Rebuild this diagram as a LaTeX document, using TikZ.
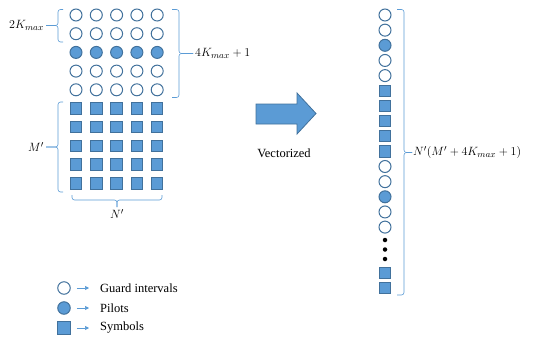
\documentclass[tikz,border=0pt]{standalone}
\usepackage{fontspec}
\setmainfont{Liberation Serif}
\usetikzlibrary{arrows.meta}
\definecolor{fillb}{HTML}{5B9BD5}
\definecolor{lineb}{HTML}{41719C}
\definecolor{brc}{HTML}{5B9BD5}
\begin{document}
\begin{tikzpicture}[x=1pt,y=-1pt,
  gi/.style={circle,draw=lineb,fill=white,line width=1pt,minimum size=12pt,inner sep=0pt},
  pil/.style={circle,draw=lineb,fill=fillb,line width=1pt,minimum size=12pt,inner sep=0pt},
  sym/.style={rectangle,draw=lineb,fill=fillb,line width=1pt,minimum size=11.5pt,inner sep=0pt},
  dotn/.style={circle,fill=black,minimum size=4.5pt,inner sep=0pt},
  brl/.style={draw=brc,line width=0.6pt,rounded corners=2.5pt},
  larr/.style={draw=brc,line width=0.6pt,-{Triangle[length=4pt,width=4pt]}},
  lbl/.style={font=\rmfamily\fontsize{12.5}{15}\selectfont,inner sep=2pt},
  mlbl/.style={font=\fontsize{13}{16}\selectfont,inner sep=2pt},
]
\useasboundingbox (0,0) rectangle (533,341);

% grid
\foreach \c in {1,...,5}{
  \pgfmathsetmacro\xx{76+20.3*(\c-1)}
  \foreach \r/\s in {1/gi,2/gi,3/pil,4/gi,5/gi,6/sym,7/sym,8/sym,9/sym,10/sym}{
    \pgfmathsetmacro\yy{15+18.7*(\r-1)}
    \node[\s] (g\r-\c) at (\xx,\yy) {};
  }
}

% brace 2Kmax
\node[mlbl,anchor=east] (k2) at (46,25.5) {$2K_{max}$};
\draw[brl] (63,9.5) -- (58,9.5) -- (58,25.5) -- (k2.east);
\draw[brl] (63,42) -- (58,42) -- (58,25.5) -- (k2.east);

% brace 4Kmax+1
\node[mlbl,anchor=west] (k4) at (193,53.5) {$4K_{max}+1$};
\draw[brl] (172,9.5) -- (179,9.5) -- (179,53.5) -- (k4.west);
\draw[brl] (172,97.5) -- (179,97.5) -- (179,53.5) -- (k4.west);

% brace M'
\node[mlbl,anchor=east] (mp) at (46,147) {$M'$};
\draw[brl] (63,102) -- (58,102) -- (58,147) -- (mp.east);
\draw[brl] (63,192) -- (58,192) -- (58,147) -- (mp.east);

% brace N'
\node[mlbl,anchor=north] (np) at (117,207) {$N'$};
\draw[brl] (72,195) -- (72,200) -- (117,200) -- (np.north);
\draw[brl] (162,195) -- (162,200) -- (117,200) -- (np.north);

% block arrow
\draw[draw=lineb,fill=fillb,line width=0.8pt]
  (256,104) -- (297,104) -- (297,93) -- (316,113.5) -- (297,134) -- (297,124) -- (256,124) -- cycle;
\node[lbl] (vec) at (284,153) {Vectorized};

% vector column
\foreach \k/\s in {1/gi,2/gi,3/pil,4/gi,5/gi,6/sym,7/sym,8/sym,9/sym,10/sym,11/gi,12/gi,13/pil,14/gi,15/gi}{
  \pgfmathsetmacro\yy{15+15.15*(\k-1)}
  \node[\s] (v\k) at (385,\yy) {};
}
\node[dotn] (d1) at (385,240) {};
\node[dotn] (d2) at (385,249.5) {};
\node[dotn] (d3) at (385,259) {};
\node[sym] (v16) at (385,273) {};
\node[sym] (v17) at (385,288) {};

% vector brace
\node[mlbl,anchor=west,inner sep=1pt] (nv) at (412,152.5) {$N'(M'+4K_{max}+1)$};
\draw[brl] (397,9.5) -- (404,9.5) -- (404,152.5) -- (nv.west);
\draw[brl] (397,295) -- (404,295) -- (404,152.5) -- (nv.west);

% legend
\node[gi,minimum size=12.5pt] (lg1) at (64,288) {};
\node[pil,minimum size=12.5pt] (lg2) at (64,308) {};
\node[sym,minimum size=12.5pt] (lg3) at (64,328) {};
\node[lbl,anchor=west] (lt1) at (98,288) {Guard intervals};
\node[lbl,anchor=west] (lt2) at (98,308) {Pilots};
\node[lbl,anchor=west] (lt3) at (98,328) {Symbols};
\draw[larr] ([xshift=6pt]lg1.east) -- ([xshift=-9pt]lt1.west);
\draw[larr] ([xshift=6pt]lg2.east) -- ([xshift=-9pt]lt2.west);
\draw[larr] ([xshift=6pt]lg3.east) -- ([xshift=-9pt]lt3.west);
\end{tikzpicture}
\end{document}
